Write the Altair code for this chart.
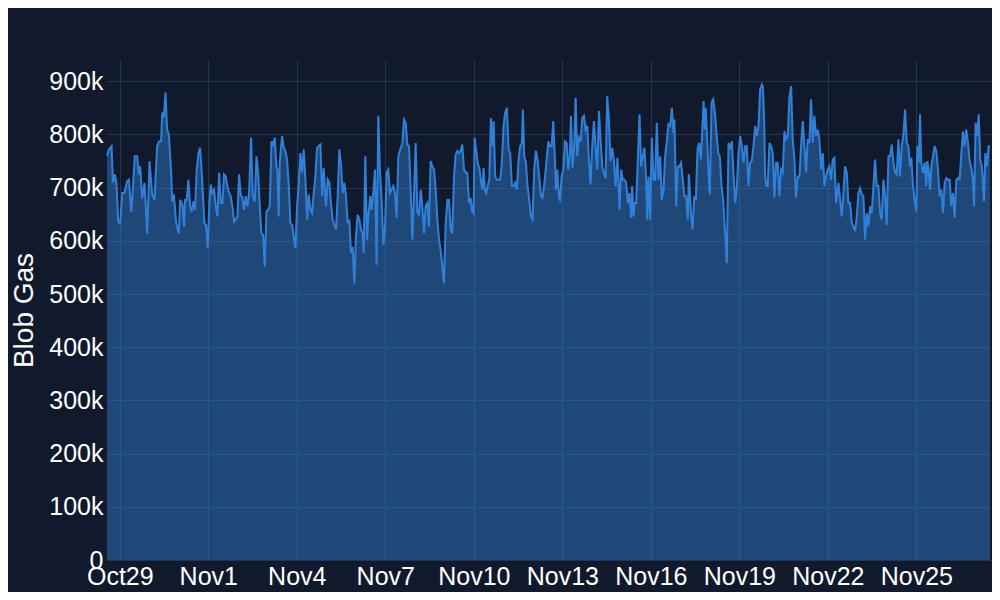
import altair as alt
import pandas as pd

# Time offsets (hours from series start) and Blob Gas values (thousands)
start_time = "2024-10-28 13:36"
hours = [
    0, 1.5, 3.7, 4.8, 6.4, 7.7, 9.1, 10.7, 12.4, 14.2, 16.4, 17.8, 19.7, 20.5, 22.6, 24.5, 25.9, 27.0, 28.6, 30.5,
    32.7, 34.6, 36.7, 38.6, 40.8, 42.2, 44.0, 44.9, 46.2, 47.6, 48.9, 50.3, 52.2, 53.0, 54.4, 56.3, 58.4,
    59.5, 61.4, 62.7, 63.5, 64.9, 66.2, 67.6, 68.9, 70.3, 71.6, 73.0, 74.4, 75.7, 77.1, 79.2, 80.6, 81.9, 83.3,
    84.4, 85.7, 87.1, 88.5, 89.8, 91.2, 92.5, 93.9, 95.2, 96.6, 97.9, 99.3, 100.6, 102.0, 103.4, 104.7, 106.1,
    107.4, 108.8, 110.1, 111.5, 112.8, 114.2, 115.6, 117.2,
    118.6, 120.2, 121.6, 122.9, 124.3, 125.6, 127.0, 128.3, 129.7, 131.0, 132.4, 133.8, 135.1, 136.5, 137.8,
    138.6, 139.7, 140.5, 142.4, 143.8, 145.1, 146.5, 147.9, 149.2, 150.6, 151.9, 153.3, 154.6, 156.0, 157.3,
    158.7, 160.0, 161.4, 162.8, 164.1, 165.5, 166.8, 168.2, 169.5, 170.9, 172.2, 173.6, 175.0, 176.3, 177.7,
    178.2, 179.5, 180.9, 182.2, 183.6, 184.9, 186.3, 187.6, 189.0, 190.4, 191.7, 193.1, 194.4, 195.8, 197.1,
    198.5, 199.8, 201.2, 202.5, 203.9, 205.3, 206.6, 208.0, 208.8, 210.1, 211.5, 212.8, 214.2, 215.3, 216.6,
    218.0, 219.3, 220.7, 222.1, 223.4, 224.8, 226.1, 227.5, 228.8, 230.2, 231.5, 232.9, 234.3, 235.6, 237.0,
    238.9, 240.3, 241.6, 243.0, 244.3, 245.7, 247.0, 248.4, 249.7, 251.1, 252.5, 253.8, 255.2, 256.5, 257.9,
    259.2, 260.6, 261.9, 263.3, 264.7, 266.0, 267.4, 268.7, 270.1, 271.4, 272.8, 274.1, 275.5, 276.9, 278.2,
    279.6, 280.9, 282.3, 283.6, 285.0, 286.3, 287.7, 289.0, 290.4, 291.8, 293.1, 294.5, 295.8, 297.0,
    298.2, 299.0, 300.4, 301.5, 303.1, 304.4, 305.5, 306.3, 307.4, 308.5, 309.6, 311.0, 312.3, 313.7, 314.5,
    315.8, 317.2, 318.5, 319.9, 321.2, 322.6, 323.9, 325.3, 326.7, 328.0, 329.4, 330.7, 332.1, 333.4, 334.8,
    336.1, 337.5, 338.3, 339.4, 340.8, 342.1, 343.5, 344.8, 346.2, 347.5, 348.9, 350.2, 351.6, 353.0, 354.3, 356.0,
    357.6, 359.0, 360.3, 361.7, 363.0, 364.4, 365.2, 366.3, 367.6, 368.5, 369.8, 371.2, 372.5, 373.9, 375.2,
    376.6, 377.4, 378.7, 380.1, 381.2, 382.5, 383.9, 385.3, 386.6, 388.0, 389.3, 390.7, 392.0, 393.4, 394.7,
    396.1, 397.4, 398.8, 400.2, 401.5, 402.9, 404.2, 405.6, 406.9, 408.3, 409.6, 411.0, 412.4, 413.7, 415.3,
    416.9, 418.3, 419.6, 421.0, 422.3, 423.7, 425.0, 426.4, 427.2, 428.3, 429.1, 430.5, 431.8, 433.2, 434.5,
    435.9, 437.2, 438.6, 439.4, 440.5, 441.8, 443.2, 444.6, 445.9, 447.3, 448.6, 450.0, 451.3, 452.7, 454.0,
    455.4, 456.7, 458.1, 459.5, 460.8, 461.6, 463.0, 464.3, 465.7, 467.0, 468.4, 469.8, 471.1, 472.5, 473.3, 474.4,
    475.0, 476.3, 477.7, 479.0, 480.4, 481.7, 483.1, 484.4, 485.3, 486.3, 487.1, 488.5, 489.3, 490.4, 491.8,
    493.1, 494.5, 495.8, 497.2, 498.5, 499.9, 501.2, 502.6, 503.4, 504.2, 505.6, 506.9, 508.3, 509.6, 511.0,
    512.4, 513.7, 515.1, 516.4, 517.8, 519.1, 520.5, 521.8, 523.2, 524.5, 525.9, 527.3, 528.6, 530.0, 531.3,
    532.7, 533.5,
    534.6, 535.3, 536.2, 537.5, 538.9, 540.2, 541.6, 542.9, 544.3, 545.6, 547.0, 548.3, 549.7, 551.1, 552.4,
    553.8, 555.1, 556.5, 557.8, 559.2, 560.5, 561.9, 563.3, 564.6, 566.0, 567.3, 568.7, 570.0, 571.4, 572.7,
    574.1, 575.4, 576.8, 578.2, 579.5, 580.9, 582.2, 583.6, 584.9, 586.3, 587.6, 589.0, 590.4, 591.7, 593.1,
    595.0, 596.4, 597.7, 599.1, 600.4, 601.8, 603.1, 604.5, 605.9, 607.2, 608.6, 609.9, 611.3, 612.6, 614.0,
    615.3, 616.7, 618.0, 619.4, 620.8, 622.1, 623.5, 624.8, 626.2, 627.5, 628.9, 630.2, 631.6, 633.0, 634.3,
    635.7, 637.0, 638.4, 639.7, 641.1, 642.4, 643.8, 645.1, 646.5, 647.9, 649.2, 650.6, 651.9, 653.3,
    654.3, 655.7, 657.0, 658.4, 659.2, 660.3, 661.4, 662.4, 663.8, 665.2, 666.5, 667.3, 668.4, 669.5, 670.6,
    671.9, 673.3, 674.6, 676.0, 677.3, 678.7, 680.1, 681.4, 682.8, 684.1, 685.5, 686.8, 688.2, 689.5, 690.9,
    692.2, 693.6, 695.0, 696.3, 697.7, 699.0, 700.4, 701.7, 703.1, 704.4, 705.3, 706.6, 708.0, 709.1, 710.4,
    711.8, 713.4, 714.5, 715.8, 717.2, 718.3,
]
blob_gas_k = [
    760, 772, 778, 709, 725, 709, 636, 633, 690, 690, 712, 715, 655, 677, 759, 759, 725, 740, 680, 709,
    614, 750, 687, 677, 778, 787, 787, 841, 831, 879, 809, 800, 728, 674, 687, 633, 614,
    677, 668, 627, 677, 677, 715, 665, 655, 674, 658, 734, 765, 775, 728, 633, 630, 586, 671,
    706, 690, 696, 665, 646, 728, 671, 671, 725, 721, 703, 690, 684, 665, 636, 640, 646,
    725, 687, 681, 658, 684, 665, 690, 794,
    684, 674, 759, 728, 665, 614, 611, 552, 655, 658, 665, 787, 781, 794, 740,
    734, 646, 746, 797, 775, 769, 753, 703, 633, 630, 608, 586, 665, 709, 765,
    728, 772, 715, 640, 687, 658, 652, 690, 721, 775, 778, 781, 684, 737, 677,
    665, 715, 709, 671, 640, 630, 621, 681, 772, 743, 690, 709, 684, 633, 640,
    577, 589, 520, 608, 649, 640, 621, 614, 577, 759, 602, 652, 684, 658, 690,
    734, 555, 835, 728, 677, 592, 621, 728, 734, 690, 696, 703, 690, 643, 759,
    775, 784, 828, 822, 781, 778, 696, 602, 684, 784, 652, 649, 696, 665, 614,
    665, 671, 627, 750, 740, 734, 696, 640, 602, 583, 552, 520, 633, 677, 677,
    621, 614, 721, 762, 769, 765, 769, 781, 734, 728, 728, 671, 681, 656,
    652, 794, 769, 747, 734, 709, 696, 737, 696, 690, 703, 715, 831, 778, 825,
    721, 715, 715, 715, 747, 816, 841, 850, 772, 765, 703, 703, 709, 696, 753,
    778, 784, 847, 759, 747, 703, 677, 646, 640, 734, 769, 753, 721, 684, 681, 712,
    753, 787, 778, 778, 825, 753, 696, 734, 681, 677, 721, 734, 787, 784, 734,
    765, 835, 737, 778, 869, 759, 794, 787, 831, 835, 809, 816, 753, 706, 778,
    825, 778, 734, 844, 791, 740, 728, 718, 872, 828, 750, 775, 750, 703, 756,
    658, 734, 715, 715, 709, 671, 690, 643, 703, 646, 671, 671, 753, 838, 740,
    759, 775, 715, 640, 721, 640, 794, 715, 715, 822, 715, 759, 677, 696, 759,
    787, 819, 816, 850, 803, 828, 665, 740, 740, 747, 715, 684, 684, 640, 725, 684,
    652, 621, 684, 677, 772, 784, 753, 816, 863, 809, 850, 778, 728, 687, 860,
    866, 841, 803, 765, 759, 703, 677, 621, 596, 558, 784, 772, 787, 728, 671,
    703, 765, 797, 778, 747, 778, 778, 703, 747, 750, 778, 816, 797, 816, 885,
    894, 891,
    828, 728, 703, 703, 784, 778, 765, 681, 747, 747, 684, 734, 728, 806, 791,
    797, 869, 891, 791, 753, 681, 721, 721, 778, 825, 778, 728, 791, 784, 866,
    784, 835, 797, 809, 791, 734, 765, 703, 721, 734, 740, 715, 753, 756, 671,
    709, 677, 646, 690, 740, 728, 671, 671, 633, 627, 618, 646, 690, 699, 687,
    684, 602, 652, 627, 665, 652, 703, 753, 703, 703, 652, 640, 715, 684, 630,
    759, 759, 781, 747, 728, 725, 791, 721, 778, 800, 847, 784, 778, 740,
    756, 703, 677, 655, 778, 747, 838, 747, 728, 747, 703, 750, 734, 696, 740,
    759, 778, 769, 734, 684, 696, 652, 709, 718, 715, 715, 665, 690, 643, 715,
    718, 715, 765, 806, 778, 809, 784, 750, 737, 715, 665, 822, 797, 838, 753,
    737, 674, 765, 740, 778, 778,
]

# Axis tick dates (every 3 days)
tick_dates = [(2024, 10, 29), (2024, 11, 1), (2024, 11, 4), (2024, 11, 7), (2024, 11, 10),
              (2024, 11, 13), (2024, 11, 16), (2024, 11, 19), (2024, 11, 22), (2024, 11, 25)]
y_ticks = [0, 100000, 200000, 300000, 400000, 500000, 600000, 700000, 800000, 900000]
y_max = 940000

t0 = pd.Timestamp(start_time)
df = pd.DataFrame({
    "time": [t0 + pd.Timedelta(hours=h) for h in hours],
    "blob_gas": [v * 1000 for v in blob_gas_k],
})

BG = "#111a2d"
LINE = "#3180d8"
GRID = "#26344f"
FONT = "Liberation Sans"
TEXT = "#ffffff"

x_enc = alt.X(
    "time:T",
    scale=alt.Scale(nice=False),
    axis=alt.Axis(
        values=[alt.DateTime(year=y, month=m, date=d) for (y, m, d) in tick_dates],
        format="%b%-d",
        title=None,
        grid=True,
        gridColor=GRID,
        gridWidth=1,
        domain=False,
        ticks=False,
        labelFont=FONT,
        labelFontSize=25,
        labelColor=TEXT,
        labelPadding=4,
        labelBaseline="top",
        labelFlush=False,
        labelOverlap=False,
    ),
)
y_enc = alt.Y(
    "blob_gas:Q",
    scale=alt.Scale(domain=[0, y_max], nice=False, zero=True),
    axis=alt.Axis(
        values=y_ticks,
        labelExpr="datum.value == 0 ? '0' : format(datum.value, '~s')",
        title="Blob Gas",
        titleFont=FONT,
        titleFontSize=28,
        titleFontWeight="normal",
        titleColor=TEXT,
        titlePadding=10,
        grid=True,
        gridColor=GRID,
        gridWidth=1,
        domain=False,
        ticks=False,
        labelFont=FONT,
        labelFontSize=25,
        labelColor=TEXT,
        labelPadding=4,
        labelFlush=False,
        labelOverlap=False,
    ),
)

area = alt.Chart(df).mark_area(color=LINE, opacity=0.45, interpolate="linear").encode(x=x_enc, y=y_enc)
line = alt.Chart(df).mark_line(color=LINE, strokeWidth=2, interpolate="linear").encode(x="time:T", y="blob_gas:Q")

chart = (
    alt.layer(area, line)
    .properties(
        width=883,
        height=500,
        background=BG,
        padding={"left": 99, "top": 52, "right": 2, "bottom": 32},
        autosize=alt.AutoSizeParams(type="none"),
    )
    .configure_view(stroke=None)
)

chart.save("out.html", embed_options={"renderer": "svg", "actions": False})
